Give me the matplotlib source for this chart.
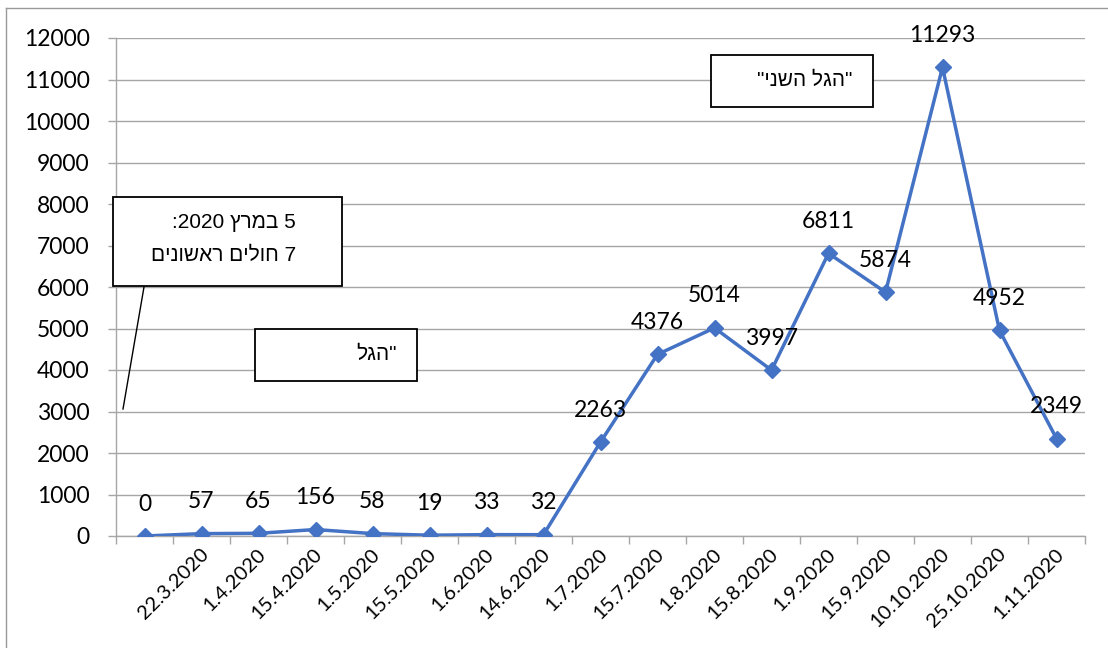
import re
import matplotlib
matplotlib.use('Agg')
import matplotlib.pyplot as plt
from matplotlib.patches import Rectangle
from matplotlib.lines import Line2D
from matplotlib.transforms import ScaledTranslation

# ערכים מהגרף
dates = ['', '22.3.2020', '1.4.2020', '15.4.2020', '1.5.2020', '15.5.2020', '1.6.2020',
         '14.6.2020', '1.7.2020', '15.7.2020', '1.8.2020', '15.8.2020', '1.9.2020',
         '15.9.2020', '10.10.2020', '25.10.2020', '1.11.2020']
cases = [0, 57, 65, 156, 58, 19, 33, 32, 2263, 4376, 5014, 3997, 6811, 5874, 11293, 4952, 2349]
y_ticks = list(range(0, 12001, 1000))

note_first = ['5 במרץ 2020:', '7 חולים ראשונים']
note_wave1 = '"הגל'
note_wave2 = '"הגל השני"'

W, H = 1108, 648
grey = '#A6A6A6'
blue = '#4472C4'
plt.rcParams['font.family'] = ['Lato', 'DejaVu Sans']


def rtl(s):
    # matplotlib לא הופך עברית - סדר ויזואלי ידני
    r = s[::-1]
    return re.sub(r'\d+', lambda m: m.group()[::-1], r)


def fx(x):
    return x / W


def fy(y):
    return 1 - y / H


fig = plt.figure(figsize=(W / 100, H / 100), dpi=100)
ax = fig.add_axes([fx(116), fy(536), (1085 - 116) / W, (536 - 38) / H])

x = list(range(len(cases)))
ax.plot(x, cases, color=blue, lw=2.5, marker='D', markersize=8, zorder=3)
for i, v in enumerate(cases):
    ax.annotate(str(v), (i, v), xytext=(0, 23), textcoords='offset points',
                ha='center', va='center', fontsize=16.5, color='black', zorder=4)

ax.set_xlim(-0.5, len(cases) - 0.5)
ax.set_ylim(0, 12000)
ax.set_yticks(y_ticks)
ax.set_yticklabels([str(t) for t in y_ticks], fontsize=16.5)
ax.tick_params(axis='y', length=6, color=grey, width=1, pad=13)
ax.set_xticks(x)
ax.set_xticklabels(dates, rotation=45, ha='right', va='center', rotation_mode='anchor', fontsize=14.5)
ax.tick_params(axis='x', which='major', length=0, pad=11)
ax.set_xticks([i - 0.5 for i in range(len(cases) + 1)], minor=True)
ax.tick_params(axis='x', which='minor', length=6, color=grey, width=1)
for lab in ax.get_xticklabels():
    lab.set_transform(lab.get_transform() + ScaledTranslation(3 / 72, 0, fig.dpi_scale_trans))

ax.grid(axis='y', color=grey, lw=1)
ax.set_axisbelow(True)
for s in ['top', 'right']:
    ax.spines[s].set_visible(False)
for s in ['left', 'bottom']:
    ax.spines[s].set_color(grey)
    ax.spines[s].set_linewidth(1)

# מסגרת חיצונית
fig.add_artist(Line2D([fx(6), fx(6)], [fy(8), fy(700)], color='#999999', lw=1))
fig.add_artist(Line2D([fx(6), fx(1200)], [fy(8), fy(8)], color='#999999', lw=1))

# תיבות טקסט
def box(x0, y0, x1, y1):
    fig.add_artist(Rectangle((fx(x0), fy(y1)), fx(x1) - fx(x0), fy(y0) - fy(y1),
                             transform=fig.transFigure, facecolor='white',
                             edgecolor='black', lw=1.3, zorder=5))

hfont = ['Liberation Sans', 'DejaVu Sans']
box(113, 197, 342, 286)
fig.text(fx(296), fy(222), rtl(note_first[0]), ha='right', va='center', fontsize=15, family=hfont, zorder=6)
fig.text(fx(296), fy(255), rtl(note_first[1]), ha='right', va='center', fontsize=15, family=hfont, zorder=6)
fig.add_artist(Line2D([fx(144), fx(123)], [fy(287), fy(409)], color='black', lw=1, zorder=5))

box(255, 329, 417, 381)
fig.text(fx(397), fy(354), rtl(note_wave1), ha='right', va='center', fontsize=15, family=hfont, zorder=6)

box(711, 55, 873, 107)
fig.text(fx(852), fy(80), rtl(note_wave2), ha='right', va='center', fontsize=15, family=hfont, zorder=6)

fig.savefig('out.png', dpi=100)
